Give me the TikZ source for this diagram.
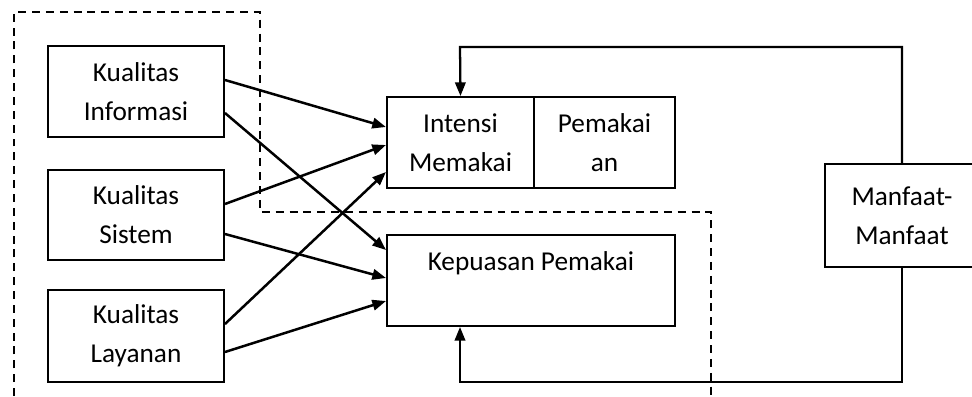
\documentclass[tikz,border=0pt]{standalone}
\usepackage{fontspec}
\setmainfont{Carlito}
\usepackage{tikz}
\usetikzlibrary{calc,arrows.meta}

\begin{document}
\begin{tikzpicture}[x=0.44pt,y=-0.44pt,>={Triangle[length=6pt,width=4.6pt]},
                    font=\fontsize{12}{17.2}\selectfont]
  \tikzstyle{box}=[rectangle,draw=black,fill=white,line width=0.9pt,align=center,inner sep=0pt]
  \tikzstyle{link}=[->,line width=1.1pt]
  \tikzstyle{group}=[line width=0.8pt,dash pattern=on 3.5pt off 2.6pt]

  \useasboundingbox (0,0) rectangle (972,396);
  \clip (0,0) rectangle (972,396);

  \draw[group] (14,396) -- (14,12) -- (260,12) -- (260,212) -- (711,212) -- (711,396);

  \node[box,minimum width=77.4pt,minimum height=40pt]   (info)    at (136,91.5)  {Kualitas\\Informasi};
  \node[box,minimum width=77.4pt,minimum height=39.6pt] (sistem)  at (136,215)   {Kualitas\\Sistem};
  \node[box,minimum width=77.4pt,minimum height=40.5pt] (layanan) at (136,336)   {Kualitas\\Layanan};
  \node[box,minimum width=64.7pt,minimum height=40pt]   (intensi) at (460.5,142.5) {Intensi\\Memakai};
  \node[box,minimum width=62pt,minimum height=40pt]     (pakai)   at (604.5,142.5) {Pemakai\\an};
  \node[box,minimum width=126.7pt,minimum height=40pt]  (puas)    at (531,280.5) {Kepuasan Pemakai\\\mbox{}};
  \node[box,minimum width=67.8pt,minimum height=45.3pt] (manfaat) at (902,215.5) {Manfaat-\\Manfaat};

  \draw[link] ($(info.east)+(0,-11.5)$)   -- ($(intensi.west)+(0,-15.5)$);
  \draw[link] ($(info.east)+(0,21.5)$)    -- ($(puas.west)+(0,-30.5)$);
  \draw[link] ($(sistem.east)+(0,-11)$)   -- ($(intensi.west)+(0,2.5)$);
  \draw[link] ($(sistem.east)+(0,19)$)    -- ($(puas.west)+(0,-2.5)$);
  \draw[link] ($(layanan.east)+(0,-12)$)  -- ($(intensi.west)+(0,29.5)$);
  \draw[link] ($(layanan.east)+(0,16)$)   -- ($(puas.west)+(0,20.5)$);

  \coordinate (fbtop) at (460,47);
  \coordinate (fbbot) at (460,382);
  \draw[->,line width=1pt] (manfaat.north) |- (fbtop) -- (intensi.north);
  \draw[->,line width=1pt] (manfaat.south) |- (fbbot) -- (fbbot |- puas.south);
\end{tikzpicture}
\end{document}
